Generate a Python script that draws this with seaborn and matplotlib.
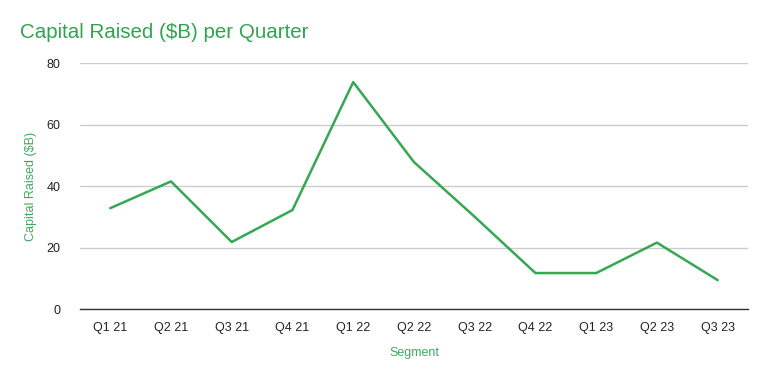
import pandas as pd
import seaborn as sns
import matplotlib.pyplot as plt

quarters = ['Q1 21', 'Q2 21', 'Q3 21', 'Q4 21', 'Q1 22', 'Q2 22',
            'Q3 22', 'Q4 22', 'Q1 23', 'Q2 23', 'Q3 23']
capital = [32.8, 41.5, 21.8, 32.2, 73.8, 47.8, 30.0, 11.7, 11.7, 21.6, 9.4]

data = pd.DataFrame({'Segment': quarters, 'Capital': capital})

sns.set_style('white')
plt.rcParams['font.family'] = ['Liberation Sans', 'DejaVu Sans']

green = '#34a853'
fig = plt.figure(figsize=(7.68, 3.82), dpi=100)
ax = fig.add_axes([0.104, 0.191, 0.870, 0.644])

sns.lineplot(x='Segment', y='Capital', data=data, color=green, linewidth=1.8, ax=ax, sort=False)

ax.set_xlim(-0.5, len(quarters) - 0.5)
ax.set_ylim(0, 80)
ax.set_yticks([0, 20, 40, 60, 80])
ax.grid(True, axis='y', color='#cccccc', linewidth=1)
ax.set_axisbelow(True)
for side in ['top', 'right', 'left']:
    ax.spines[side].set_visible(False)
ax.spines['bottom'].set_color('#333333')
ax.spines['bottom'].set_linewidth(1.0)
ax.tick_params(axis='both', length=0, labelsize=9, colors='#222222')
ax.tick_params(axis='x', pad=9)
ax.tick_params(axis='y', pad=14)

ax.set_xlabel('Segment', color='#3daa5c', fontsize=9, labelpad=10)
ax.set_ylabel('Capital Raised ($B)', color='#3daa5c', fontsize=9, labelpad=7)
fig.text(0.026, 0.915, 'Capital Raised ($B) per Quarter', color='#2ea44f', fontsize=14.8, va='center')

fig.savefig('out.png', dpi=100)
